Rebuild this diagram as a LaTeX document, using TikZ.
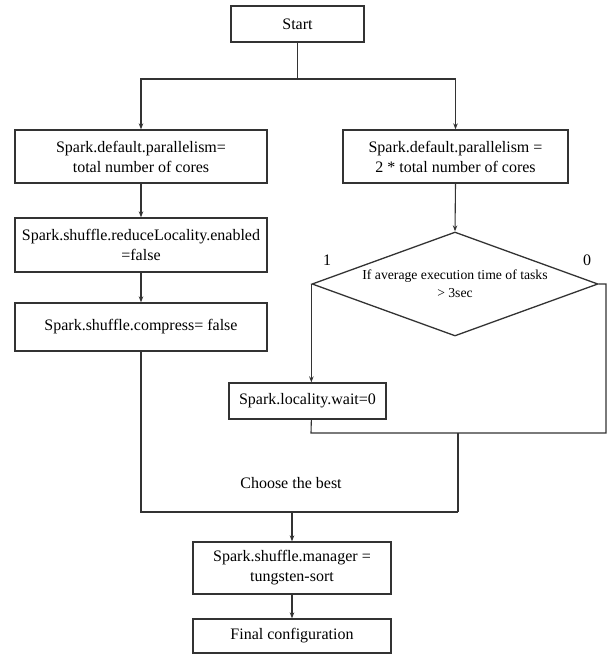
\documentclass[tikz,border=0pt]{standalone}
\usepackage{fontspec}
\setmainfont{Liberation Serif}
\usetikzlibrary{arrows.meta,shapes.geometric}
\begin{document}
\begin{tikzpicture}[x=1pt,y=-1pt,
  box/.style={draw=black!80,line width=1.3pt,rectangle,inner sep=0pt,align=center,
    font=\fontsize{16}{20}\selectfont,text=black},
  conn/.style={draw=black!80,line width=1.1pt},
  arr/.style={conn,-{Stealth[length=6pt,width=4.5pt]}},
  lbl/.style={inner sep=0pt,font=\fontsize{16}{20}\selectfont,text=black}]
\useasboundingbox (0,0) rectangle (608,655);
\fill[white] (0,0) rectangle (608,655);

\node[box,minimum width=133pt,minimum height=36pt] (start) at (297.5,24) {Start};
\node[box,minimum width=252pt,minimum height=53pt] (l1) at (141,156.5) {Spark.default.parallelism=\\total number of cores};
\node[box,minimum width=225pt,minimum height=53pt] (r1) at (455.5,156.5) {Spark.default.parallelism =\\2 * total number of cores};
\node[box,minimum width=252pt,minimum height=54pt] (l2) at (141,245) {Spark.shuffle.reduceLocality.enabled\\=false};
\node[box,minimum width=252pt,minimum height=48pt] (l3) at (141,327) {Spark.shuffle.compress= false};
\node[diamond,draw=black!80,line width=1.3pt,inner sep=0pt,minimum width=286pt,minimum height=104pt] (dec) at (455,284) {};
\node[lbl,align=center,font=\fontsize{13.7}{18}\selectfont] (dectext) at (455,284) {If average execution time of tasks\\> 3sec};
\node[box,minimum width=157pt,minimum height=36pt] (loc) at (307.5,401) {Spark.locality.wait=0};
\node[box,minimum width=198pt,minimum height=52pt] (sm) at (292,568) {Spark.shuffle.manager =\\tungsten-sort};
\node[box,minimum width=198pt,minimum height=34pt] (fin) at (292,636) {Final configuration};

\node[lbl] (one) at (327,260) {1};
\node[lbl] (zero) at (587,260) {0};
\node[lbl] (choose) at (291,483) {Choose the best};

\coordinate (split) at (297.5,79);
\coordinate (jbl) at (311,433);
\coordinate (jbr) at (606,433);
\coordinate (m1) at (458,433);
\coordinate (m2) at (458,512);

\draw[conn] (start.south) -- (split);
\draw[arr] (split) -| (l1.north);
\draw[arr] (split) -| (r1.north);
\draw[arr] (l1.south) -- (l2.north);
\draw[arr] (l2.south) -- (l3.north);
\draw[arr] (r1.south) -- (dec.north);
\draw[arr] (dec.west) -- (dec.west |- loc.north);
\draw[conn] (dec.west |- loc.south) -- (jbl) -- (jbr) |- (dec.east);
\draw[conn] (m1) -- (m2);
\draw[conn] (l3.south) |- (m2);
\draw[arr] (sm.north |- m2) -- (sm.north);
\draw[arr] (sm.south) -- (fin.north);
\end{tikzpicture}
\end{document}
